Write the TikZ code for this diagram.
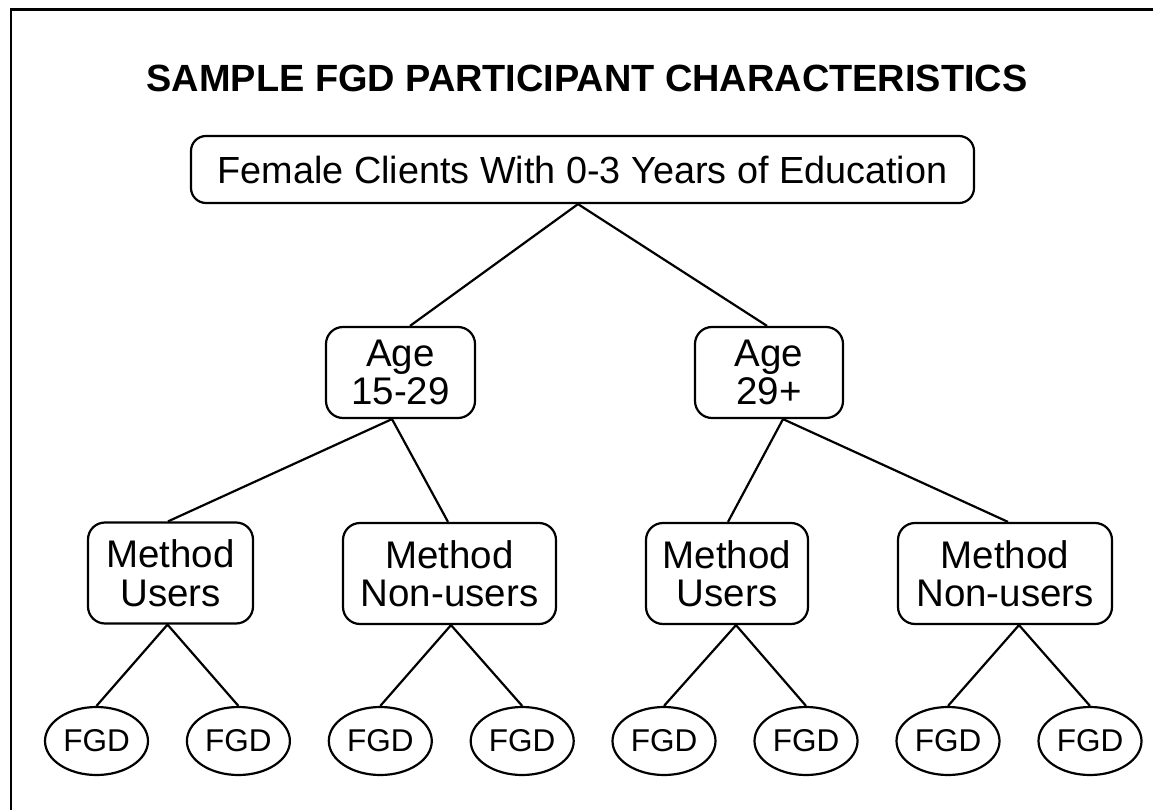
\documentclass[tikz,border=0pt]{standalone}
\usepackage{fontspec}
\setmainfont{Liberation Sans}
\usetikzlibrary{shapes.geometric}
\begin{document}
\begin{tikzpicture}[x=1pt,y=-1pt,
  box/.style={draw, line width=2.2pt, rounded corners=17pt, inner sep=0pt, align=center,
    font=\fontsize{38.5}{38.5}\selectfont},
  fgd/.style={draw, ellipse, line width=2.2pt, inner sep=0pt, minimum width=103pt, minimum height=68pt,
    font=\fontsize{31.5}{31.5}\selectfont},
  link/.style={line width=2.2pt}]
\useasboundingbox (0,0) rectangle (1153,810);
\draw[line width=2.6pt] (11,810) -- (11,9.5) -- (1153,9.5);
\node[font=\bfseries\fontsize{37.9}{37.9}\selectfont, anchor=base] (title) at (587,92) {SAMPLE FGD PARTICIPANT CHARACTERISTICS};
\node[box, font=\fontsize{37.8}{37.8}\selectfont, rounded corners=15pt, minimum width=783pt, minimum height=67pt] (top) at (582.5,169.5) {Female Clients With 0-3 Years of Education};
\node[box, minimum width=149pt, minimum height=91pt] (a1) at (400.5,372.5) {Age\\15-29};
\node[box, minimum width=148pt, minimum height=91pt] (a2) at (769,372.5) {Age\\29+};
\node[box, minimum width=165pt, minimum height=101pt] (m1) at (170.5,573) {Method\\Users};
\node[box, minimum width=213pt, minimum height=101pt] (m2) at (449.5,573.5) {Method\\Non-users};
\node[box, minimum width=162pt, minimum height=101pt] (m3) at (727,573.5) {Method\\Users};
\node[box, minimum width=214pt, minimum height=101pt] (m4) at (1005,573.5) {Method\\Non-users};
\node[fgd] (f1) at (96.5,741) {FGD};
\node[fgd] (f2) at (238.4,741) {FGD};
\node[fgd] (f3) at (380.3,741) {FGD};
\node[fgd] (f4) at (522.2,741) {FGD};
\node[fgd] (f5) at (664,741) {FGD};
\node[fgd] (f6) at (806,741) {FGD};
\node[fgd] (f7) at (948,741) {FGD};
\node[fgd] (f8) at (1090,741) {FGD};
\draw[link] ([xshift=9.5pt]a1.north) -- ([xshift=-4.5pt]top.south) -- ([xshift=-2pt]a2.north);
\draw[link] ([xshift=-2.5pt]m1.north) -- ([xshift=-8.5pt]a1.south) -- ([xshift=-1.5pt]m2.north);
\draw[link] ([xshift=1pt]m3.north) -- ([xshift=14pt]a2.south) -- ([xshift=3pt]m4.north);
\draw[link] (f1.north) -- ([xshift=-3pt]m1.south) -- (f2.north);
\draw[link] (f3.north) -- ([xshift=1.5pt]m2.south) -- (f4.north);
\draw[link] (f5.north) -- ([xshift=9pt]m3.south) -- (f6.north);
\draw[link] (f7.north) -- ([xshift=14pt]m4.south) -- (f8.north);
\end{tikzpicture}
\end{document}
